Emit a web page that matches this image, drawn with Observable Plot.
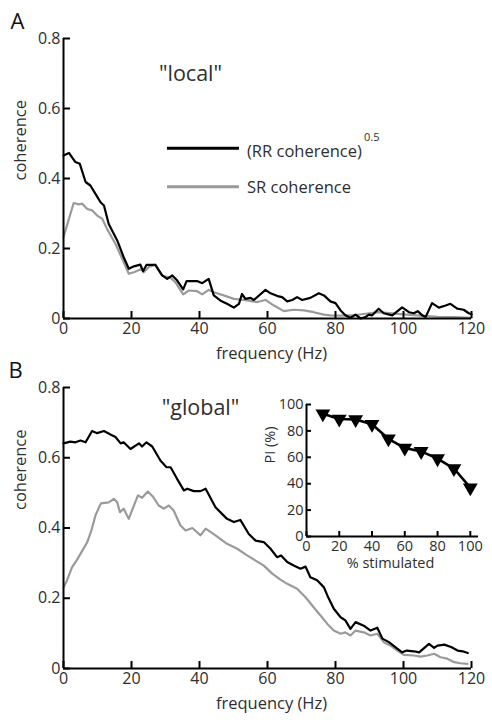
<!DOCTYPE html>
<html>
<head>
<meta charset="utf-8">
<script src="https://cdn.jsdelivr.net/npm/d3@7"></script>
<script src="https://cdn.jsdelivr.net/npm/@observablehq/plot@0.6"></script>
<style>
  body { margin: 0; background: #fff; font-family: "Open Sans", sans-serif; }
  #wrap { position: relative; width: 492px; height: 723px; overflow: hidden; }
  #wrap svg { position: absolute; left: 0; top: 0; }
</style>
</head>
<body>
<div id="wrap"></div>
<script>
// ---------- data (frequency Hz, coherence) ----------
const localRR = [[0,0.466],[1.6,0.473],[3.5,0.447],[4.8,0.442],[6.5,0.39],[7.9,0.38],[9.4,0.356],[10.9,0.332],[11.9,0.323],[13.3,0.27],[15.8,0.223],[17.7,0.175],[19.2,0.142],[20.7,0.149],[22.6,0.154],[23.4,0.135],[24.4,0.153],[27,0.153],[29,0.123],[30.5,0.113],[32,0.123],[33.4,0.109],[35.2,0.083],[36.2,0.107],[39.3,0.107],[40.8,0.101],[42.7,0.113],[44.2,0.066],[46.2,0.051],[48.1,0.042],[50.1,0.031],[51.6,0.042],[52.5,0.07],[53.5,0.056],[55,0.059],[56,0.053],[59.4,0.082],[60.9,0.072],[63.3,0.063],[64.3,0.061],[65.8,0.049],[67.3,0.053],[68.7,0.061],[70.2,0.053],[72.6,0.059],[75.1,0.072],[76.6,0.066],[78.5,0.049],[80,0.044],[81.5,0.023],[82.9,0.009],[84.4,0.002],[85.9,0.011],[87.4,0],[88.8,0.004],[89.8,0.011],[90.8,0.009],[92.7,0.028],[94.2,0.015],[96.7,0.009],[99.6,0.032],[101.6,0.018],[103,0.015],[104.2,0.021],[105.5,0.009],[106.5,0.004],[108.4,0.044],[110.4,0.031],[112.4,0.037],[113.8,0.042],[115.8,0.028],[117.7,0.025],[119.2,0.015],[120,0.012]];
const localSR = [[0,0.232],[1.6,0.285],[3,0.33],[4.5,0.326],[5.5,0.328],[7,0.313],[8.4,0.309],[9.9,0.294],[11.4,0.285],[12.8,0.256],[15.3,0.213],[17.7,0.161],[19.2,0.128],[20.7,0.132],[23.1,0.142],[23.6,0.132],[25.1,0.147],[27,0.154],[29,0.123],[31.5,0.116],[32.9,0.104],[35.2,0.069],[36.9,0.08],[39.3,0.078],[40.8,0.069],[42.7,0.082],[44.2,0.075],[47.1,0.066],[50.1,0.056],[53,0.053],[57,0.047],[59.4,0.053],[61.9,0.037],[64.8,0.021],[67.7,0.025],[70.7,0.023],[73.6,0.018],[76.6,0.011],[78.5,0.009],[82,0.008],[86,0.01],[90,0.015],[92.5,0.018],[95,0.016],[100,0.012],[105,0.008],[110,0.005],[115,0.004],[120,0.002]];
const globalRR = [[0,0.641],[2,0.646],[3.5,0.644],[5,0.649],[6.5,0.644],[8.4,0.676],[9.9,0.67],[11.9,0.676],[13.8,0.666],[15.3,0.659],[16.8,0.641],[17.7,0.644],[19.7,0.625],[22.2,0.641],[23.1,0.632],[24.4,0.644],[26.1,0.632],[28.5,0.592],[30.3,0.573],[31.5,0.573],[33.4,0.54],[35.4,0.507],[36.4,0.512],[38.3,0.505],[40.3,0.505],[41.8,0.512],[44.7,0.459],[48.1,0.426],[50.1,0.417],[52,0.423],[54.5,0.383],[56.5,0.364],[58.9,0.36],[60.9,0.341],[62.8,0.317],[64,0.322],[65.8,0.303],[67.7,0.293],[69.7,0.284],[71.2,0.29],[72.6,0.26],[74.6,0.251],[76.6,0.231],[77.6,0.208],[79.5,0.17],[81.5,0.146],[82.9,0.137],[84.4,0.113],[85.9,0.132],[88.3,0.122],[90.3,0.108],[92.3,0.116],[93.8,0.085],[95.7,0.075],[97.6,0.061],[99.6,0.046],[101,0.051],[103,0.049],[104.6,0.046],[107.5,0.07],[109,0.059],[110,0.065],[112,0.068],[114,0.061],[115.9,0.051],[117.4,0.049],[118.9,0.044]];
const globalSR = [[0,0.231],[1,0.25],[2.5,0.288],[4,0.31],[5.5,0.335],[7,0.36],[8.2,0.393],[9.4,0.436],[11,0.47],[13.3,0.473],[14.8,0.483],[15.8,0.473],[16.6,0.445],[17.7,0.455],[19.2,0.426],[20.7,0.464],[21.9,0.493],[23.1,0.486],[24.8,0.504],[26.4,0.488],[28,0.464],[29.5,0.455],[31,0.464],[32.4,0.45],[34.4,0.407],[35.9,0.393],[37.9,0.4],[39.3,0.388],[40.3,0.379],[41.8,0.398],[44.7,0.379],[48.1,0.355],[51.1,0.341],[54,0.322],[56.5,0.307],[58.9,0.293],[61.4,0.27],[63.8,0.253],[65.8,0.241],[68.7,0.227],[71.2,0.203],[73.5,0.175],[75.6,0.151],[77.6,0.127],[79.5,0.108],[81.5,0.099],[82.9,0.103],[84.4,0.094],[85.9,0.108],[88.3,0.103],[90.3,0.094],[92.3,0.099],[94.2,0.075],[96.2,0.065],[98.2,0.051],[100.1,0.039],[103,0.037],[105,0.034],[107,0.037],[109,0.042],[110.9,0.032],[112.9,0.028],[114.9,0.018],[116.8,0.015],[118.8,0.013]];

// inset: % stimulated vs PI (%)
const pctStimulated = [10,20,30,40,50,60,70,80,90,100];
const piValues = [93,89,88.6,85,74,67,64.5,59,51.5,37];

// tick labels
const freqTicks = [0,20,40,60,80,100,120];
const cohTicks = [0,0.2,0.4,0.6,0.8];
const insetXTicks = [0,20,40,60,80,100];
const insetYTicks = [0,20,40,60,80,100];

// ---------- styling ----------
const W = 492, H = 723;
const INK = "#000", GREY = "#9a9a9a", TXT = "#2e2e2e";
const FONT = "'Open Sans', sans-serif";
const wrap = document.getElementById("wrap");

function panel({rr, sr, top, bottom, letter, letterDx, title, titleDx, titleDy, ylabDy}) {
  const mL = 63, mR = 21;
  const fw = W - mL - mR, fh = H - top - bottom;
  return Plot.plot({
    width: W, height: H,
    marginLeft: mL, marginRight: mR, marginTop: top, marginBottom: bottom,
    style: {background: "transparent", fontFamily: FONT, overflow: "visible"},
    x: {domain: [0, 120]},
    y: {domain: [0, 0.8]},
    marks: [
      Plot.line(sr, {x: d => d[0], y: d => d[1], stroke: GREY, strokeWidth: 2.2}),
      Plot.line(rr, {x: d => d[0], y: d => d[1], stroke: INK, strokeWidth: 2.2}),
      Plot.ruleX([0], {stroke: INK, strokeWidth: 2}),
      Plot.ruleY([0], {stroke: INK, strokeWidth: 2}),
      Plot.tickY(cohTicks, {y: d => d, insetRight: fw - 7, stroke: INK, strokeWidth: 2}),
      Plot.tickX(freqTicks, {x: d => d, insetTop: fh - 7, stroke: INK, strokeWidth: 2}),
      Plot.axisY({ticks: cohTicks, tickSize: 0, tickPadding: 3, fontSize: 16, color: TXT, label: null,
                  tickFormat: d => d === 0 ? "0" : d.toFixed(1)}),
      Plot.axisX({ticks: freqTicks, tickSize: 0, tickPadding: 4, fontSize: 16, color: TXT, label: null}),
      Plot.text(["frequency (Hz)"], {text: d => d, frameAnchor: "bottom", dy: 35, dx: 4, lineAnchor: "middle", fontSize: 16.5, fill: TXT}),
      Plot.text(["coherence"], {text: d => d, frameAnchor: "left", dx: -43, dy: ylabDy, rotate: -90, lineAnchor: "middle", fontSize: 16.5, fill: TXT}),
      Plot.text([letter], {text: d => d, frameAnchor: "top-left", dx: letterDx, dy: -10, textAnchor: "start", lineAnchor: "bottom", fontSize: 22, fill: "#111"}),
      Plot.text([title], {text: d => d, frameAnchor: "top-left", dx: titleDx, dy: titleDy, textAnchor: "middle", lineAnchor: "bottom", fontSize: 21.5, fill: TXT})
    ]
  });
}

const panelA = panel({rr: localRR, sr: localSR, top: 38, bottom: 405, letter: "A", letterDx: -53,
  title: "\"local\"", titleDx: 127, titleDy: 42, ylabDy: 2});
const panelB = panel({rr: globalRR, sr: globalSR, top: 387, bottom: 55, letter: "B", letterDx: -55,
  title: "\"global\"", titleDx: 137, titleDy: 27, ylabDy: -18});

// downward triangle symbol
const triangleDown = {
  draw(ctx, size) {
    const s = Math.sqrt(size / (Math.sqrt(3) / 4));
    const h = s * Math.sqrt(3) / 2;
    ctx.moveTo(-s / 2, -h / 3);
    ctx.lineTo(s / 2, -h / 3);
    ctx.lineTo(0, 2 * h / 3);
    ctx.closePath();
  }
};

const insetData = pctStimulated.map((p, i) => ({p, v: piValues[i]}));
const iTop = 404, iBottom = H - 536, iLeft = 306, iRight = W - 478;
const ifw = W - iLeft - iRight, ifh = H - iTop - iBottom;
const inset = Plot.plot({
  width: W, height: H,
  marginLeft: iLeft, marginRight: iRight, marginTop: iTop, marginBottom: iBottom,
  style: {background: "transparent", fontFamily: FONT, overflow: "visible"},
  x: {domain: [0, 105]},
  y: {domain: [0, 100]},
  marks: [
    Plot.ruleX([0], {stroke: INK, strokeWidth: 2}),
    Plot.ruleY([0], {stroke: INK, strokeWidth: 2}),
    Plot.tickY(insetYTicks, {y: d => d, insetRight: ifw - 5, stroke: INK, strokeWidth: 2}),
    Plot.tickX(insetXTicks, {x: d => d, insetTop: ifh - 5, stroke: INK, strokeWidth: 2}),
    Plot.line(insetData, {x: "p", y: "v", stroke: INK, strokeWidth: 2.6}),
    Plot.dot(insetData, {x: "p", y: "v", symbol: triangleDown, r: 5.5, fill: INK, stroke: "none"}),
    Plot.axisY({ticks: insetYTicks, tickSize: 0, tickPadding: 3, fontSize: 14.5, color: TXT, label: null}),
    Plot.axisX({ticks: insetXTicks, tickSize: 0, tickPadding: 4, fontSize: 14.5, color: TXT, label: null}),
    Plot.text(["PI (%)"], {text: d => d, frameAnchor: "left", dx: -36, dy: -7, rotate: -90, lineAnchor: "middle", fontSize: 14.5, fill: TXT}),
    Plot.text(["% stimulated"], {text: d => d, frameAnchor: "bottom", dy: 27, dx: -2, lineAnchor: "middle", fontSize: 14.5, fill: TXT})
  ]
});

wrap.append(panelA, panelB, inset);

// legend for panel A
const leg = d3.select(wrap).append("svg")
  .attr("width", W).attr("height", H)
  .style("font-family", FONT);
const legendItems = [
  {label: "(RR coherence)", sup: "0.5", color: INK, y: 148.3, base: 156.7},
  {label: "SR coherence", sup: null, color: GREY, y: 186.7, base: 193.3}
];
legendItems.forEach(d => {
  leg.append("line").attr("x1", 167).attr("x2", 239).attr("y1", d.y).attr("y2", d.y)
    .attr("stroke", d.color).attr("stroke-width", 3);
  leg.append("text").attr("x", 247).attr("y", d.base).attr("font-size", 16.5).attr("fill", TXT).text(d.label);
  if (d.sup) {
    leg.append("text").attr("x", 364).attr("y", 141).attr("font-size", 11).attr("fill", TXT).text(d.sup);
  }
});
</script>
</body>
</html>
